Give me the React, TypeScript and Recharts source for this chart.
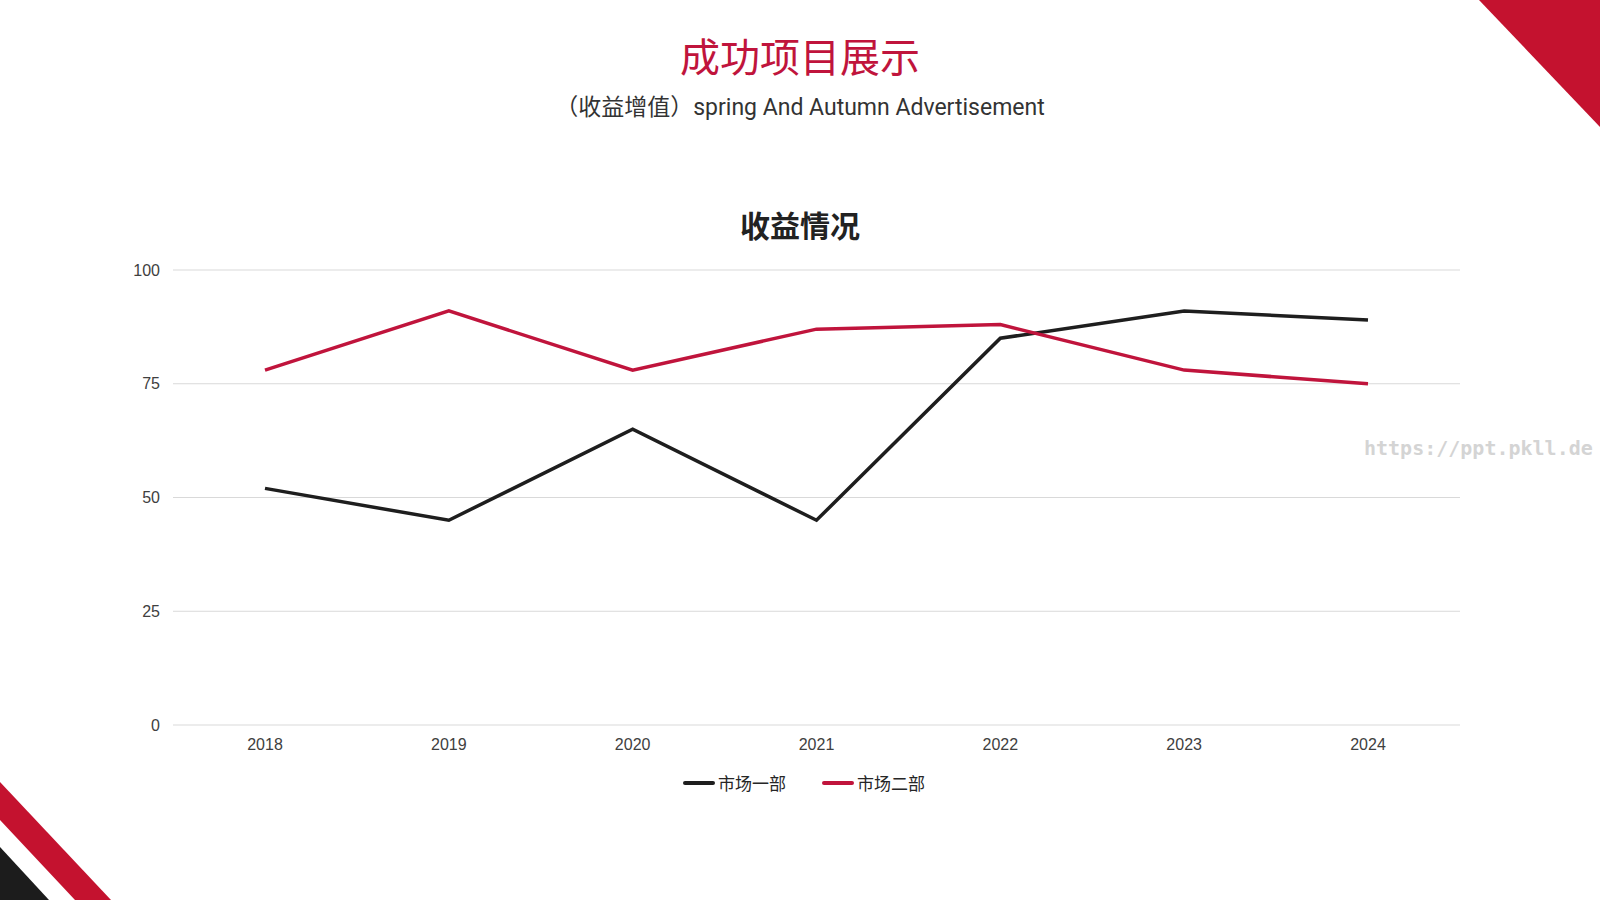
import React from "react";
import { LineChart, Line, XAxis, YAxis, CartesianGrid, Legend } from "recharts";

const years = ["2018", "2019", "2020", "2021", "2022", "2023", "2024"];
const marketOne = [52, 45, 65, 45, 85, 91, 89];
const marketTwo = [78, 91, 78, 87, 88, 78, 75];
const yTicks = [0, 25, 50, 75, 100];

const seriesNames = { one: "市场一部", two: "市场二部" };
const colors = { one: "#1e1e1e", two: "#c0143c" };

const data = years.map((year, i) => ({
  year,
  one: marketOne[i],
  two: marketTwo[i],
}));

const CJK = '"Noto Sans CJK SC", "Noto Sans", sans-serif';
const LATIN = '"Liberation Sans", Arial, "Noto Sans CJK SC", sans-serif';

const LegendContent = (props: any) => {
  const items = props.payload || [];
  return (
    <div
      style={{
        display: "flex",
        justifyContent: "center",
        alignItems: "center",
        gap: 36,
        paddingLeft: 8,
      }}
    >
      {items.map((item: any) => (
        <div key={item.value} style={{ display: "flex", alignItems: "center" }}>
          <div
            style={{
              width: 32,
              height: 4,
              borderRadius: 2,
              background: item.color,
              marginRight: 3,
            }}
          />
          <span style={{ fontFamily: CJK, fontSize: 17, color: "#262626" }}>
            {item.value}
          </span>
        </div>
      ))}
    </div>
  );
};

export default function App() {
  return (
    <div
      style={{
        position: "fixed",
        left: 0,
        top: 0,
        width: 1600,
        height: 900,
        background: "#ffffff",
        overflow: "hidden",
      }}
    >
      {/* corner decorations */}
      <svg
        width={1600}
        height={900}
        style={{ position: "absolute", left: 0, top: 0 }}
      >
        <polygon points="1479,0 1600,0 1600,127" fill="#c4122f" />
        <polygon points="0,782 111,900 75,900 0,820" fill="#c4122f" />
        <polygon points="0,847 49,900 0,900" fill="#1c1c1c" />
      </svg>

      <div
        style={{
          position: "absolute",
          top: 29,
          left: 0,
          width: 1600,
          textAlign: "center",
          fontFamily: CJK,
          fontSize: 40,
          lineHeight: "52px",
          color: "#c0143c",
        }}
      >
        成功项目展示
      </div>
      <div
        style={{
          position: "absolute",
          top: 93,
          left: 0,
          width: 1600,
          textAlign: "center",
          fontFamily: 'Roboto, "Noto Sans CJK SC", sans-serif',
          fontSize: 23,
          lineHeight: "30px",
          color: "#333333",
        }}
      >
        （收益增值）spring And Autumn Advertisement
      </div>
      <div
        style={{
          position: "absolute",
          top: 204,
          left: 0,
          width: 1600,
          textAlign: "center",
          fontFamily: CJK,
          fontWeight: 700,
          fontSize: 30,
          lineHeight: "40px",
          color: "#222222",
        }}
      >
        收益情况
      </div>

      <div style={{ position: "absolute", left: 0, top: 0 }}>
        <LineChart
          width={1600}
          height={900}
          data={data}
          margin={{ top: 270, right: 140, bottom: 145, left: 0 }}
        >
          <CartesianGrid horizontal vertical={false} stroke="#d9d9d9" strokeWidth={1} />
          <XAxis
            dataKey="year"
            height={30}
            axisLine={false}
            tickLine={false}
            tickSize={0}
            tickMargin={14}
            padding={{ left: 92, right: 92 }}
            tick={{ fontFamily: LATIN, fontSize: 16, fill: "#404040" }}
          />
          <YAxis
            width={173}
            domain={[0, 100]}
            ticks={yTicks}
            axisLine={false}
            tickLine={false}
            tickSize={0}
            tickMargin={13}
            tick={{ fontFamily: LATIN, fontSize: 16, fill: "#404040" }}
          />
          <Legend
            layout="horizontal"
            align="center"
            verticalAlign="middle"
            wrapperStyle={{ top: 770, left: 0, width: 1600 }}
            content={<LegendContent />}
          />
          <Line
            type="linear"
            dataKey="one"
            name={seriesNames.one}
            stroke={colors.one}
            strokeWidth={3.5}
            dot={false}
            activeDot={false}
            isAnimationActive={false}
          />
          <Line
            type="linear"
            dataKey="two"
            name={seriesNames.two}
            stroke={colors.two}
            strokeWidth={3.5}
            dot={false}
            activeDot={false}
            isAnimationActive={false}
          />
        </LineChart>
      </div>

      <div
        style={{
          position: "absolute",
          top: 434,
          left: 1364,
          fontFamily: '"DejaVu Sans Mono", monospace',
          fontWeight: 700,
          fontSize: 20,
          lineHeight: "28px",
          color: "#d4d4d4",
          letterSpacing: 0,
        }}
      >
        https://ppt.pkll.de
      </div>
    </div>
  );
}
